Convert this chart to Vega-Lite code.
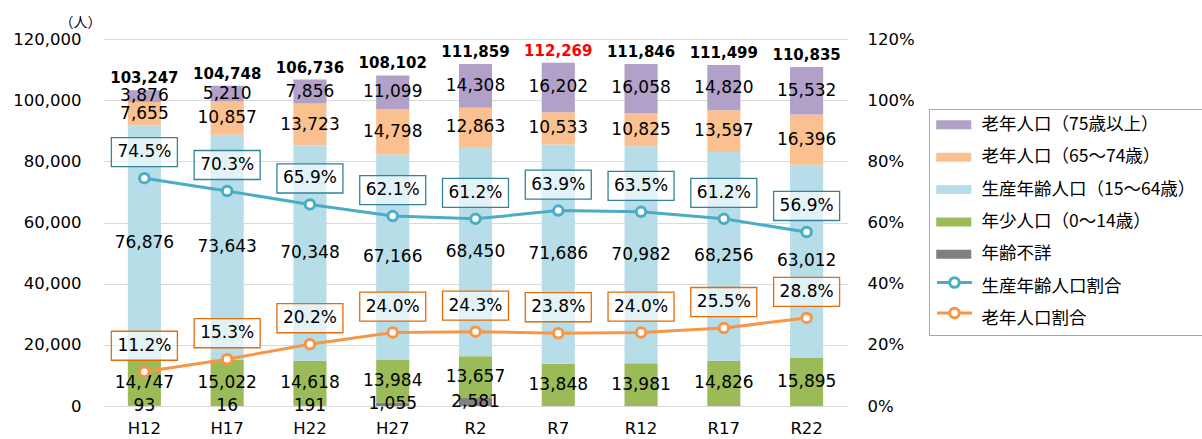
{
  "$schema": "https://vega.github.io/schema/vega-lite/v6.json",
  "width": 745,
  "height": 367,
  "autosize": "none",
  "padding": {"left": 103, "top": 39, "right": 354, "bottom": 33},
  "background": "white",
  "config": {
    "view": {"stroke": null},
    "font": "DejaVu Sans",
    "axis": {"labelFont": "DejaVu Sans", "labelFontSize": 16.5, "labelColor": "#000000", "ticks": false, "domain": false, "gridColor": "#D9D9D9", "gridWidth": 1.2}
  },
  "datasets": {
    "pop": [
      {"year": "H12", "series": "年齢不詳", "value": 93},
      {"year": "H12", "series": "年少人口（0～14歳）", "value": 14747},
      {"year": "H12", "series": "生産年齢人口（15～64歳）", "value": 76876},
      {"year": "H12", "series": "老年人口（65～74歳）", "value": 7655},
      {"year": "H12", "series": "老年人口（75歳以上）", "value": 3876},
      {"year": "H17", "series": "年齢不詳", "value": 16},
      {"year": "H17", "series": "年少人口（0～14歳）", "value": 15022},
      {"year": "H17", "series": "生産年齢人口（15～64歳）", "value": 73643},
      {"year": "H17", "series": "老年人口（65～74歳）", "value": 10857},
      {"year": "H17", "series": "老年人口（75歳以上）", "value": 5210},
      {"year": "H22", "series": "年齢不詳", "value": 191},
      {"year": "H22", "series": "年少人口（0～14歳）", "value": 14618},
      {"year": "H22", "series": "生産年齢人口（15～64歳）", "value": 70348},
      {"year": "H22", "series": "老年人口（65～74歳）", "value": 13723},
      {"year": "H22", "series": "老年人口（75歳以上）", "value": 7856},
      {"year": "H27", "series": "年齢不詳", "value": 1055},
      {"year": "H27", "series": "年少人口（0～14歳）", "value": 13984},
      {"year": "H27", "series": "生産年齢人口（15～64歳）", "value": 67166},
      {"year": "H27", "series": "老年人口（65～74歳）", "value": 14798},
      {"year": "H27", "series": "老年人口（75歳以上）", "value": 11099},
      {"year": "R2", "series": "年齢不詳", "value": 2581},
      {"year": "R2", "series": "年少人口（0～14歳）", "value": 13657},
      {"year": "R2", "series": "生産年齢人口（15～64歳）", "value": 68450},
      {"year": "R2", "series": "老年人口（65～74歳）", "value": 12863},
      {"year": "R2", "series": "老年人口（75歳以上）", "value": 14308},
      {"year": "R7", "series": "年少人口（0～14歳）", "value": 13848},
      {"year": "R7", "series": "生産年齢人口（15～64歳）", "value": 71686},
      {"year": "R7", "series": "老年人口（65～74歳）", "value": 10533},
      {"year": "R7", "series": "老年人口（75歳以上）", "value": 16202},
      {"year": "R12", "series": "年少人口（0～14歳）", "value": 13981},
      {"year": "R12", "series": "生産年齢人口（15～64歳）", "value": 70982},
      {"year": "R12", "series": "老年人口（65～74歳）", "value": 10825},
      {"year": "R12", "series": "老年人口（75歳以上）", "value": 16058},
      {"year": "R17", "series": "年少人口（0～14歳）", "value": 14826},
      {"year": "R17", "series": "生産年齢人口（15～64歳）", "value": 68256},
      {"year": "R17", "series": "老年人口（65～74歳）", "value": 13597},
      {"year": "R17", "series": "老年人口（75歳以上）", "value": 14820},
      {"year": "R22", "series": "年少人口（0～14歳）", "value": 15895},
      {"year": "R22", "series": "生産年齢人口（15～64歳）", "value": 63012},
      {"year": "R22", "series": "老年人口（65～74歳）", "value": 16396},
      {"year": "R22", "series": "老年人口（75歳以上）", "value": 15532}
    ],
    "totals": [
      {"year": "H12", "total": 103247},
      {"year": "H17", "total": 104748},
      {"year": "H22", "total": 106736},
      {"year": "H27", "total": 108102},
      {"year": "R2", "total": 111859},
      {"year": "R7", "total": 112269},
      {"year": "R12", "total": 111846},
      {"year": "R17", "total": 111499},
      {"year": "R22", "total": 110835}
    ],
    "ratio": [
      {"year": "H12", "series": "生産年齢人口割合", "pct": 0.745},
      {"year": "H17", "series": "生産年齢人口割合", "pct": 0.703},
      {"year": "H22", "series": "生産年齢人口割合", "pct": 0.659},
      {"year": "H27", "series": "生産年齢人口割合", "pct": 0.621},
      {"year": "R2", "series": "生産年齢人口割合", "pct": 0.612},
      {"year": "R7", "series": "生産年齢人口割合", "pct": 0.639},
      {"year": "R12", "series": "生産年齢人口割合", "pct": 0.635},
      {"year": "R17", "series": "生産年齢人口割合", "pct": 0.612},
      {"year": "R22", "series": "生産年齢人口割合", "pct": 0.569},
      {"year": "H12", "series": "老年人口割合", "pct": 0.112},
      {"year": "H17", "series": "老年人口割合", "pct": 0.153},
      {"year": "H22", "series": "老年人口割合", "pct": 0.202},
      {"year": "H27", "series": "老年人口割合", "pct": 0.240},
      {"year": "R2", "series": "老年人口割合", "pct": 0.243},
      {"year": "R7", "series": "老年人口割合", "pct": 0.238},
      {"year": "R12", "series": "老年人口割合", "pct": 0.240},
      {"year": "R17", "series": "老年人口割合", "pct": 0.255},
      {"year": "R22", "series": "老年人口割合", "pct": 0.288}
    ]
  },
  "encoding": {
    "x": {
      "field": "year", "type": "nominal",
      "scale": {"domain": ["H12", "H17", "H22", "H27", "R2", "R7", "R12", "R17", "R22"], "paddingInner": 0.6, "paddingOuter": 0.3},
      "axis": {"title": null, "labelAngle": 0, "labelPadding": 14, "domain": true, "domainColor": "#D9D9D9", "domainWidth": 1.2}
    }
  },
  "layer": [
    {
      "data": {"name": "pop"},
      "transform": [
        {"calculate": "indexof(['年齢不詳','年少人口（0～14歳）','生産年齢人口（15～64歳）','老年人口（65～74歳）','老年人口（75歳以上）'], datum.series)", "as": "ord"},
        {"stack": "value", "groupby": ["year"], "sort": [{"field": "ord", "order": "ascending"}], "as": ["v0", "v1"]},
        {"calculate": "(datum.v0 + datum.v1) / 2", "as": "mid"}
      ],
      "layer": [
        {
          "mark": {"type": "bar"},
          "encoding": {
            "y": {"field": "v0", "type": "quantitative", "scale": {"domain": [0, 120000]},
              "axis": {"values": [0, 20000, 40000, 60000, 80000, 100000, 120000], "format": ",", "labelExpr": "format(datum.value, ',')", "labelPadding": 22, "grid": true,
                "title": "（人）", "titleAngle": 0, "titleX": -23, "titleY": -17, "titleAlign": "center", "titleBaseline": "middle",
                "titleFont": "Noto Sans CJK JP", "titleFontSize": 14, "titleFontWeight": "normal", "titleColor": "#000000"}},
            "y2": {"field": "v1"},
            "fill": {
              "field": "series", "type": "nominal",
              "scale": {
                "domain": ["老年人口（75歳以上）", "老年人口（65～74歳）", "生産年齢人口（15～64歳）", "年少人口（0～14歳）", "年齢不詳", "生産年齢人口割合", "老年人口割合"],
                "range": ["#B1A0C7", "#FAC090", "#B7DEE8", "#9BBB59", "#808080", "rgba(0,0,0,0)", "rgba(0,0,0,0)"]
              },
              "legend": {
                "title": null, "orient": "none", "legendX": 826, "legendY": 70,
                "padding": 7, "rowPadding": 13.4, "symbolSize": 256, "symbolOffset": 9,
                "symbolType": "M-2.19,-0.56H2.19V0.56H-2.19Z", "symbolStrokeWidth": 0,
                "labelFont": "Noto Sans CJK JP", "labelFontSize": 17.5, "labelColor": "#000000", "labelOffset": 19, "labelLimit": 400,
                "strokeColor": "#A6A6A6"
              }
            }
          }
        },
        {
          "mark": {"type": "text", "font": "DejaVu Sans", "fontSize": 17, "color": "#000000", "baseline": "middle"},
          "encoding": {
            "y": {"field": "mid", "type": "quantitative",
              "axis": {"values": [0, 20000, 40000, 60000, 80000, 100000, 120000], "format": ",", "labelExpr": "format(datum.value, ',')", "labelPadding": 22, "grid": true,
                "title": "（人）", "titleAngle": 0, "titleX": -23, "titleY": -17, "titleAlign": "center", "titleBaseline": "middle",
                "titleFont": "Noto Sans CJK JP", "titleFontSize": 14, "titleFontWeight": "normal", "titleColor": "#000000"}},
            "text": {"field": "value", "type": "quantitative", "format": ","}
          }
        },
        {
          "data": {"name": "totals"},
          "mark": {"type": "text", "font": "DejaVu Sans", "fontSize": 15, "fontWeight": "bold", "baseline": "alphabetic", "dy": -7},
          "encoding": {
            "y": {"field": "total", "type": "quantitative",
              "axis": {"values": [0, 20000, 40000, 60000, 80000, 100000, 120000], "format": ",", "labelExpr": "format(datum.value, ',')", "labelPadding": 22, "grid": true,
                "title": "（人）", "titleAngle": 0, "titleX": -23, "titleY": -17, "titleAlign": "center", "titleBaseline": "middle",
                "titleFont": "Noto Sans CJK JP", "titleFontSize": 14, "titleFontWeight": "normal", "titleColor": "#000000"}},
            "text": {"field": "total", "type": "quantitative", "format": ","},
            "color": {"condition": {"test": "datum.year == 'R7'", "value": "#FF0000"}, "value": "#000000"}
          }
        }
      ]
    },
    {
      "data": {"name": "ratio"},
      "layer": [
        {
          "mark": {"type": "line", "strokeWidth": 3},
          "encoding": {
            "y": {"field": "pct", "type": "quantitative", "scale": {"domain": [0, 1.2]},
              "axis": {"orient": "right", "title": null, "values": [0, 0.2, 0.4, 0.6, 0.8, 1.0, 1.2], "format": ".0%", "labelPadding": 19, "grid": false}},
            "stroke": {
              "field": "series", "type": "nominal",
              "scale": {"domain": ["生産年齢人口割合", "老年人口割合"], "range": ["#4BACC6", "#F79646"]},
              "legend": {
                "title": null, "orient": "none", "legendX": 826, "legendY": 227,
                "padding": 7, "rowPadding": 7.5, "symbolSize": 256, "symbolOffset": 9,
                "symbolType": "M-2.19,0H-0.6M0.6,0H2.19M0.6,0C0.6,0.331,0.331,0.6,0,0.6C-0.331,0.6,-0.6,0.331,-0.6,0C-0.6,-0.331,-0.331,-0.6,0,-0.6C0.331,-0.6,0.6,-0.331,0.6,0Z",
                "symbolStrokeWidth": 3, "symbolFillColor": "white",
                "labelFont": "Noto Sans CJK JP", "labelFontSize": 17.5, "labelOpacity": 0, "labelOffset": 19, "labelLimit": 400
              }
            }
          }
        },
        {
          "mark": {"type": "point", "shape": "M-2,-0.88H2V0.88H-2Z", "size": 1089, "filled": true, "fill": "white", "fillOpacity": 0.6, "strokeWidth": 1.3, "yOffset": -26, "opacity": 1},
          "encoding": {
            "y": {"field": "pct", "type": "quantitative"},
            "stroke": {"condition": {"test": "datum.series == '老年人口割合'", "value": "#E46C0A"}, "value": "#31849B"}
          }
        },
        {
          "mark": {"type": "point", "shape": "circle", "size": 90, "filled": false, "fill": "white", "strokeWidth": 3, "opacity": 1},
          "encoding": {
            "y": {"field": "pct", "type": "quantitative"},
            "stroke": {"field": "series", "type": "nominal"}
          }
        },
        {
          "mark": {"type": "text", "font": "DejaVu Sans", "fontSize": 17, "color": "#000000", "baseline": "middle", "dy": -26},
          "encoding": {
            "y": {"field": "pct", "type": "quantitative"},
            "text": {"field": "pct", "type": "quantitative", "format": ".1%"}
          }
        }
      ]
    }
  ],
  "resolve": {"scale": {"y": "independent"}}
}
